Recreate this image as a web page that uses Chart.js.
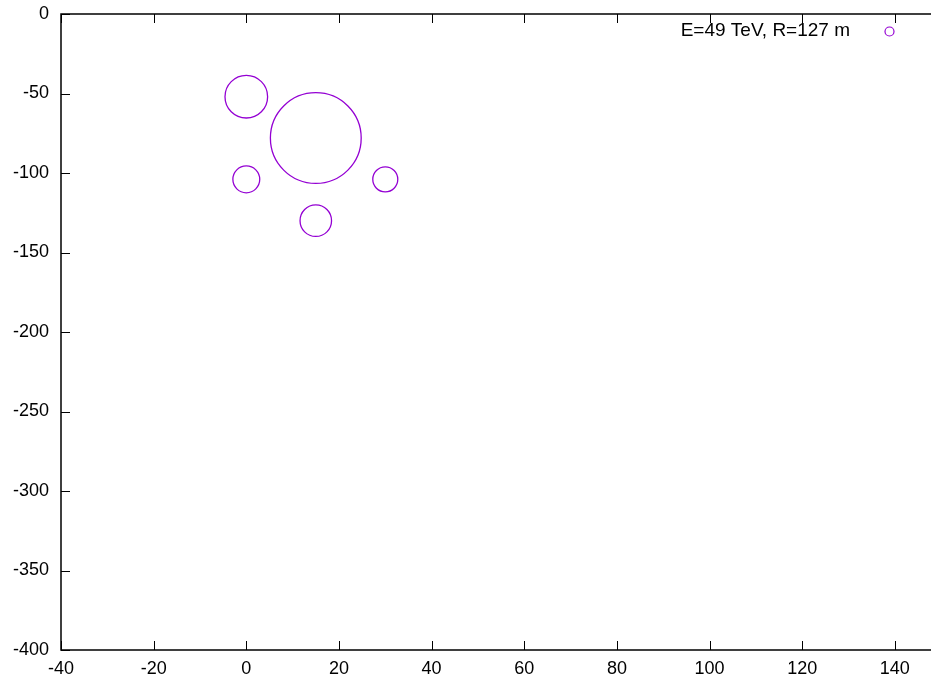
<!DOCTYPE html>
<html>
<head>
<meta charset="utf-8">
<title>E=49 TeV, R=127 m</title>
<script src="https://cdn.jsdelivr.net/npm/chart.js@4/dist/chart.umd.min.js"></script>
<style>
  html, body { margin: 0; padding: 0; background: #ffffff; }
  canvas { display: block; }
</style>
</head>
<body>
<canvas id="c" width="931" height="680"></canvas>
<script>
// Shower spot positions (x, y) and circle radii given in x-axis units
const seriesLabel = 'E=49 TeV, R=127 m';
const xValues = [0, 15, 0, 30, 15];
const yValues = [-52, -78, -104, -104, -130];
const radii = [4.6, 9.8, 2.9, 2.7, 3.4];

// Axis ticks
const xTicks = [-40, -20, 0, 20, 40, 60, 80, 100, 120, 140];
const yTicks = [0, -50, -100, -150, -200, -250, -300, -350, -400];

const COLOR = '#9400d3';
const FONT = { family: '"Liberation Sans", Arial, sans-serif', size: 18 };

const points = xValues.map((x, i) => ({ x: x, y: yValues[i], r: 0 }));

// Frame with inward tick marks plus a key in the top-right corner
const framePlugin = {
  id: 'frame',
  afterDraw(chart) {
    const { ctx, chartArea: a, scales } = chart;
    ctx.save();
    ctx.strokeStyle = '#000';
    ctx.lineWidth = 1.5;
    ctx.beginPath();
    ctx.moveTo(a.right + 2, a.top);
    ctx.lineTo(a.left, a.top);
    ctx.lineTo(a.left, a.bottom);
    ctx.lineTo(a.right + 2, a.bottom);
    ctx.stroke();

    ctx.lineWidth = 1;
    const tl = 9;
    ctx.beginPath();
    scales.x.ticks.forEach(t => {
      const px = Math.round(scales.x.getPixelForValue(t.value)) + 0.5;
      ctx.moveTo(px, a.bottom);
      ctx.lineTo(px, a.bottom - tl);
      ctx.moveTo(px, a.top);
      ctx.lineTo(px, a.top + tl);
    });
    scales.y.ticks.forEach(t => {
      const py = Math.round(scales.y.getPixelForValue(t.value)) + 0.5;
      ctx.moveTo(a.left, py);
      ctx.lineTo(a.left + tl, py);
    });
    ctx.stroke();

    // key
    const ds = chart.data.datasets[0];
    ctx.font = '19px ' + FONT.family;
    ctx.fillStyle = '#000';
    ctx.textAlign = 'right';
    ctx.textBaseline = 'middle';
    ctx.fillText(ds.label, 850, 31);
    ctx.strokeStyle = COLOR;
    ctx.lineWidth = 1.2;
    ctx.beginPath();
    ctx.arc(889.5, 31.5, 4.5, 0, Math.PI * 2);
    ctx.stroke();
    ctx.restore();
  }
};

const chart = new Chart(document.getElementById('c'), {
  type: 'bubble',
  data: {
    datasets: [{
      label: seriesLabel,
      data: points,
      borderColor: COLOR,
      backgroundColor: 'rgba(0,0,0,0)',
      borderWidth: 1.3
    }]
  },
  options: {
    responsive: false,
    animation: false,
    events: [],
    layout: { autoPadding: false, padding: { top: 14, right: 0, left: 0, bottom: 0 } },
    plugins: {
      legend: { display: false },
      tooltip: { enabled: false }
    },
    scales: {
      x: {
        type: 'linear',
        min: -40,
        max: 147.8,
        afterBuildTicks: s => { s.ticks = xTicks.map(v => ({ value: v })); },
        afterFit: s => { s.height = 30; s.paddingLeft = 0; s.paddingRight = 0; },
        grid: { display: false, drawTicks: false },
        border: { display: false },
        ticks: { color: '#000', font: FONT, padding: 8, maxRotation: 0, autoSkip: false }
      },
      y: {
        type: 'linear',
        min: -400,
        max: 0,
        afterBuildTicks: s => { s.ticks = yTicks.map(v => ({ value: v })); },
        afterFit: s => { s.width = 61; s.paddingTop = 0; s.paddingBottom = 0; },
        grid: { display: false, drawTicks: false },
        border: { display: false },
        ticks: { color: '#000', font: FONT, padding: 12, autoSkip: false }
      }
    }
  },
  plugins: [framePlugin]
});

// Circle radii are in x-axis units; convert them to pixels with the x scale
const sx = chart.scales.x;
chart.data.datasets[0].data.forEach((p, i) => {
  p.r = Math.abs(sx.getPixelForValue(radii[i]) - sx.getPixelForValue(0));
});
chart.update();
</script>
</body>
</html>
